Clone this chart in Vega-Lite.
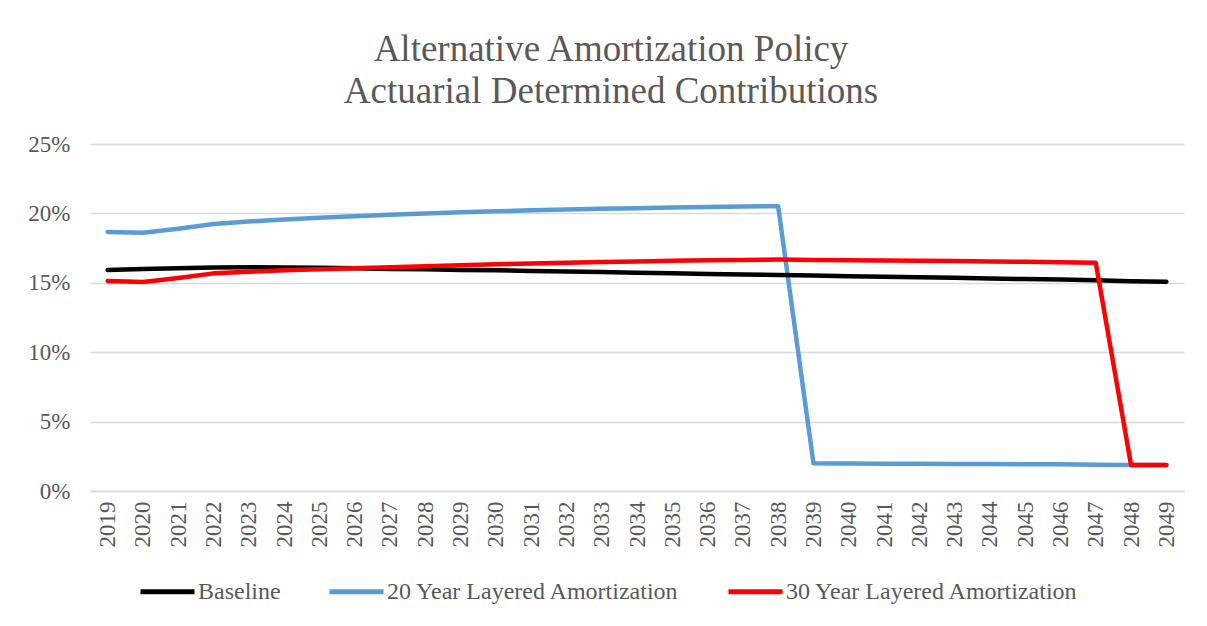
{
  "$schema": "https://vega.github.io/schema/vega-lite/v6.json",
  "width": 1094,
  "height": 347,
  "autosize": {"type": "none"},
  "padding": {"left": 90, "top": 144, "right": 23, "bottom": 135},
  "background": "white",
  "config": {
    "font": "Liberation Serif",
    "view": {"stroke": null},
    "axis": {"labelFont": "Liberation Serif"},
    "legend": {"labelFont": "Liberation Serif"}
  },
  "title": {
    "text": ["Alternative Amortization Policy", "Actuarial Determined Contributions"],
    "font": "Liberation Serif",
    "fontSize": 37,
    "fontWeight": "normal",
    "color": "#595959",
    "lineHeight": 42,
    "offset": 22,
    "dx": -26
  },
  "datasets": {
    "d": [
      {"year": "2019", "series": "20 Year Layered Amortization", "v": 18.66},
      {"year": "2020", "series": "20 Year Layered Amortization", "v": 18.6},
      {"year": "2021", "series": "20 Year Layered Amortization", "v": 18.9},
      {"year": "2022", "series": "20 Year Layered Amortization", "v": 19.24},
      {"year": "2023", "series": "20 Year Layered Amortization", "v": 19.42},
      {"year": "2024", "series": "20 Year Layered Amortization", "v": 19.56},
      {"year": "2025", "series": "20 Year Layered Amortization", "v": 19.68},
      {"year": "2026", "series": "20 Year Layered Amortization", "v": 19.8},
      {"year": "2027", "series": "20 Year Layered Amortization", "v": 19.9},
      {"year": "2028", "series": "20 Year Layered Amortization", "v": 20.0},
      {"year": "2029", "series": "20 Year Layered Amortization", "v": 20.08},
      {"year": "2030", "series": "20 Year Layered Amortization", "v": 20.15},
      {"year": "2031", "series": "20 Year Layered Amortization", "v": 20.22},
      {"year": "2032", "series": "20 Year Layered Amortization", "v": 20.28},
      {"year": "2033", "series": "20 Year Layered Amortization", "v": 20.33},
      {"year": "2034", "series": "20 Year Layered Amortization", "v": 20.38},
      {"year": "2035", "series": "20 Year Layered Amortization", "v": 20.42},
      {"year": "2036", "series": "20 Year Layered Amortization", "v": 20.46},
      {"year": "2037", "series": "20 Year Layered Amortization", "v": 20.5},
      {"year": "2038", "series": "20 Year Layered Amortization", "v": 20.52},
      {"year": "2039", "series": "20 Year Layered Amortization", "v": 2.0},
      {"year": "2040", "series": "20 Year Layered Amortization", "v": 1.98},
      {"year": "2041", "series": "20 Year Layered Amortization", "v": 1.97},
      {"year": "2042", "series": "20 Year Layered Amortization", "v": 1.96},
      {"year": "2043", "series": "20 Year Layered Amortization", "v": 1.95},
      {"year": "2044", "series": "20 Year Layered Amortization", "v": 1.94},
      {"year": "2045", "series": "20 Year Layered Amortization", "v": 1.93},
      {"year": "2046", "series": "20 Year Layered Amortization", "v": 1.92},
      {"year": "2047", "series": "20 Year Layered Amortization", "v": 1.9},
      {"year": "2048", "series": "20 Year Layered Amortization", "v": 1.88},
      {"year": "2049", "series": "20 Year Layered Amortization", "v": 1.87},
      {"year": "2019", "series": "Baseline", "v": 15.92},
      {"year": "2020", "series": "Baseline", "v": 16.0},
      {"year": "2021", "series": "Baseline", "v": 16.05},
      {"year": "2022", "series": "Baseline", "v": 16.1},
      {"year": "2023", "series": "Baseline", "v": 16.12},
      {"year": "2024", "series": "Baseline", "v": 16.1},
      {"year": "2025", "series": "Baseline", "v": 16.08},
      {"year": "2026", "series": "Baseline", "v": 16.05},
      {"year": "2027", "series": "Baseline", "v": 16.0},
      {"year": "2028", "series": "Baseline", "v": 15.97},
      {"year": "2029", "series": "Baseline", "v": 15.93},
      {"year": "2030", "series": "Baseline", "v": 15.9},
      {"year": "2031", "series": "Baseline", "v": 15.85},
      {"year": "2032", "series": "Baseline", "v": 15.81},
      {"year": "2033", "series": "Baseline", "v": 15.77},
      {"year": "2034", "series": "Baseline", "v": 15.72},
      {"year": "2035", "series": "Baseline", "v": 15.68},
      {"year": "2036", "series": "Baseline", "v": 15.64},
      {"year": "2037", "series": "Baseline", "v": 15.6},
      {"year": "2038", "series": "Baseline", "v": 15.56},
      {"year": "2039", "series": "Baseline", "v": 15.52},
      {"year": "2040", "series": "Baseline", "v": 15.48},
      {"year": "2041", "series": "Baseline", "v": 15.44},
      {"year": "2042", "series": "Baseline", "v": 15.4},
      {"year": "2043", "series": "Baseline", "v": 15.36},
      {"year": "2044", "series": "Baseline", "v": 15.31},
      {"year": "2045", "series": "Baseline", "v": 15.27},
      {"year": "2046", "series": "Baseline", "v": 15.23},
      {"year": "2047", "series": "Baseline", "v": 15.18},
      {"year": "2048", "series": "Baseline", "v": 15.12},
      {"year": "2049", "series": "Baseline", "v": 15.07},
      {"year": "2019", "series": "30 Year Layered Amortization", "v": 15.13},
      {"year": "2020", "series": "30 Year Layered Amortization", "v": 15.06},
      {"year": "2021", "series": "30 Year Layered Amortization", "v": 15.35},
      {"year": "2022", "series": "30 Year Layered Amortization", "v": 15.68},
      {"year": "2023", "series": "30 Year Layered Amortization", "v": 15.8},
      {"year": "2024", "series": "30 Year Layered Amortization", "v": 15.9},
      {"year": "2025", "series": "30 Year Layered Amortization", "v": 15.98},
      {"year": "2026", "series": "30 Year Layered Amortization", "v": 16.05},
      {"year": "2027", "series": "30 Year Layered Amortization", "v": 16.12},
      {"year": "2028", "series": "30 Year Layered Amortization", "v": 16.2},
      {"year": "2029", "series": "30 Year Layered Amortization", "v": 16.27},
      {"year": "2030", "series": "30 Year Layered Amortization", "v": 16.33},
      {"year": "2031", "series": "30 Year Layered Amortization", "v": 16.39},
      {"year": "2032", "series": "30 Year Layered Amortization", "v": 16.44},
      {"year": "2033", "series": "30 Year Layered Amortization", "v": 16.49},
      {"year": "2034", "series": "30 Year Layered Amortization", "v": 16.54},
      {"year": "2035", "series": "30 Year Layered Amortization", "v": 16.58},
      {"year": "2036", "series": "30 Year Layered Amortization", "v": 16.62},
      {"year": "2037", "series": "30 Year Layered Amortization", "v": 16.65},
      {"year": "2038", "series": "30 Year Layered Amortization", "v": 16.67},
      {"year": "2039", "series": "30 Year Layered Amortization", "v": 16.65},
      {"year": "2040", "series": "30 Year Layered Amortization", "v": 16.63},
      {"year": "2041", "series": "30 Year Layered Amortization", "v": 16.61},
      {"year": "2042", "series": "30 Year Layered Amortization", "v": 16.59},
      {"year": "2043", "series": "30 Year Layered Amortization", "v": 16.57},
      {"year": "2044", "series": "30 Year Layered Amortization", "v": 16.54},
      {"year": "2045", "series": "30 Year Layered Amortization", "v": 16.51},
      {"year": "2046", "series": "30 Year Layered Amortization", "v": 16.48},
      {"year": "2047", "series": "30 Year Layered Amortization", "v": 16.44},
      {"year": "2048", "series": "30 Year Layered Amortization", "v": 1.87},
      {"year": "2049", "series": "30 Year Layered Amortization", "v": 1.87}
    ]
  },
  "data": {"name": "d"},
  "mark": {"type": "line", "strokeWidth": 4.5, "strokeCap": "round", "strokeJoin": "round"},
  "encoding": {
    "x": {
      "field": "year",
      "type": "ordinal",
      "scale": {"type": "point", "padding": 0.5},
      "axis": {
        "title": null,
        "labelAngle": 270,
        "labelFont": "Liberation Serif",
        "labelFontSize": 23,
        "labelColor": "#595959",
        "labelPadding": 10,
        "ticks": false,
        "domainColor": "#d9d9d9",
        "domainWidth": 1.5,
        "grid": false
      }
    },
    "y": {
      "field": "v",
      "type": "quantitative",
      "scale": {"domain": [0, 25], "nice": false},
      "axis": {
        "title": null,
        "values": [0, 5, 10, 15, 20, 25],
        "labelExpr": "datum.value + '%'",
        "labelFont": "Liberation Serif",
        "labelFontSize": 23,
        "labelColor": "#595959",
        "labelPadding": 20,
        "ticks": false,
        "domain": false,
        "gridColor": "#d9d9d9",
        "gridWidth": 1.5
      }
    },
    "color": {
      "field": "series",
      "type": "nominal",
      "scale": {
        "domain": ["Baseline", "20 Year Layered Amortization", "30 Year Layered Amortization"],
        "range": ["#000000", "#5b9bd5", "#ff0000"]
      },
      "legend": {
        "title": null,
        "orient": "none",
        "direction": "horizontal",
        "legendX": 48,
        "legendY": 418,
        "symbolType": "stroke",
        "symbolSize": 2916,
        "symbolStrokeWidth": 5,
        "labelFont": "Liberation Serif",
        "labelFontSize": 24,
        "labelColor": "#595959",
        "labelOffset": 1,
        "columnPadding": 38,
        "labelLimit": 400
      }
    }
  }
}
